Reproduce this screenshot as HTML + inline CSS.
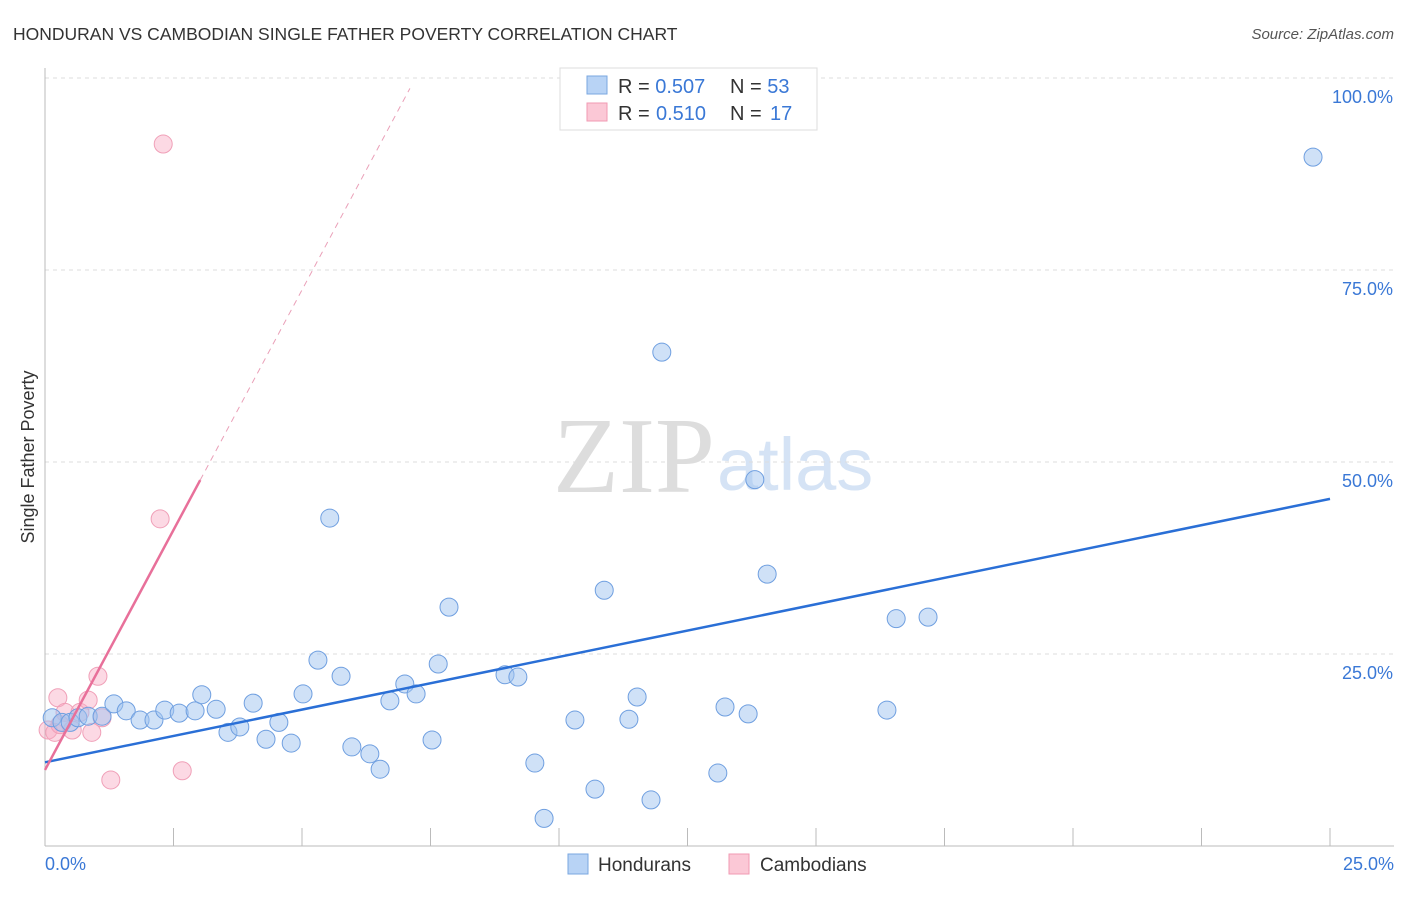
<!DOCTYPE html>
<html><head><meta charset="utf-8"><style>
body{margin:0;background:#fff;font-family:"Liberation Sans",sans-serif}
</style></head><body>
<svg width="1406" height="892" xmlns="http://www.w3.org/2000/svg">
<text x="13" y="40" font-size="17.5" fill="#333">HONDURAN VS CAMBODIAN SINGLE FATHER POVERTY CORRELATION CHART</text>
<text x="1394" y="39" font-size="15" fill="#555" font-style="italic" text-anchor="end">Source: ZipAtlas.com</text>
<text x="553" y="492" font-size="108" fill="#ddd" font-family="Liberation Serif,serif">ZIP</text>
<text x="717" y="490" font-size="74" fill="#d5e3f5">atlas</text>
<g id="grid"></g>
<line x1="45" y1="68" x2="45" y2="846" stroke="#bbb"/>
<line x1="45" y1="846" x2="1394" y2="846" stroke="#bbb"/>
<g id="ticks"></g>
<text x="34" y="457" font-size="18" fill="#333" text-anchor="middle" transform="rotate(-90 34 457)">Single Father Poverty</text>
<g id="pts"></g>
<g id="lines"></g>
<g>
<rect x="560" y="68" width="257" height="62" fill="#fff" stroke="#ddd"/>
<rect x="587" y="76" width="20" height="18" fill="#b8d3f5" stroke="#7aa7e0"/>
<rect x="587" y="103" width="20" height="18" fill="#fbc8d6" stroke="#f09ab3"/>
<text x="618" y="93" font-size="20" fill="#333">R = <tspan fill="#3a78d6">0.507</tspan><tspan x="730">N = </tspan><tspan fill="#3a78d6">53</tspan></text>
<text x="618" y="120" font-size="20" fill="#333">R = <tspan x="656" fill="#3a78d6">0.510</tspan><tspan x="730">N = </tspan><tspan x="770" fill="#3a78d6">17</tspan></text>
</g>
<g>
<rect x="568" y="854" width="20" height="20" fill="#b8d3f5" stroke="#7aa7e0"/>
<text x="598" y="871" font-size="19" fill="#333">Hondurans</text>
<rect x="729" y="854" width="20" height="20" fill="#fbc8d6" stroke="#f09ab3"/>
<text x="760" y="871" font-size="19" fill="#333">Cambodians</text>
</g>
<text x="45" y="870" font-size="18" fill="#3a78d6">0.0%</text>
<text x="1394" y="870" font-size="18" fill="#3a78d6" text-anchor="end">25.0%</text>
</svg>
<script>
const yTicks=[25,50,75,100];
const yTickLabels=["25.0%","50.0%","75.0%","100.0%"];
const hondX=[0.14,0.33,0.49,0.64,0.84,1.11,1.34,1.58,1.85,2.12,2.33,2.61,2.92,3.05,3.33,3.56,3.79,4.05,4.30,4.55,4.79,5.02,5.31,5.54,5.76,5.97,6.32,6.52,6.71,7.00,7.22,7.53,7.65,7.86,8.95,9.20,9.53,9.71,10.31,10.70,10.88,11.36,11.52,11.79,12.00,13.09,13.23,13.68,13.81,14.05,16.38,16.56,17.18,24.67];
const hondY=[16.7,16.1,16.1,16.7,16.9,16.9,18.5,17.6,16.4,16.4,17.7,17.3,17.6,19.7,17.8,14.8,15.5,18.6,13.9,16.1,13.4,19.8,24.2,42.7,22.1,12.9,12.0,10.0,18.9,21.1,19.8,13.8,23.7,31.1,22.3,22.0,10.8,3.6,16.4,7.4,33.3,16.5,19.4,6.0,64.3,9.5,18.1,17.2,47.7,35.4,17.7,29.6,29.8,89.7];
const cambX=[0.06,0.19,0.25,0.39,0.53,0.68,0.84,0.91,1.11,1.03,1.28,2.24,2.30,2.67,0.29];
const cambY=[15.1,14.8,19.3,17.4,15.1,17.4,19.0,14.8,16.7,22.1,8.6,42.6,91.4,9.8,15.8];
const hondLine=[10.9,45.2]; // y at x=0 and x=25
const cambLine=[9.9,12.5]; // intercept, slope
const NS="http://www.w3.org/2000/svg";
const X=v=>45+v*51.4, Y=v=>846-v*7.68;
function mk(t,a,p){const e=document.createElementNS(NS,t);for(const k in a)e.setAttribute(k,a[k]);document.getElementById(p).appendChild(e);return e;}
yTicks.forEach((t,i)=>{
 const l=mk('line',{x1:45,x2:1394,y1:Y(t),y2:Y(t),stroke:'#ddd','stroke-dasharray':'4,4'},'grid');
 
 
 const tx=mk('text',{x:1393,y:Y(t)+25,'font-size':18,fill:'#3a78d6','text-anchor':'end'},'grid');
 tx.textContent=yTickLabels[i];
 
 
});
for(let i=1;i<=10;i++){
 const l=mk('line',{x1:X(i*2.5),x2:X(i*2.5),y1:828,y2:846,stroke:'#bbb'},'ticks');
 
 
}
cambX.forEach((x,i)=>{
 const c=mk('circle',{cx:X(x),cy:Y(cambY[i]),r:9,fill:'rgba(248,170,195,0.45)',stroke:'#f0a0b8','stroke-width':1},'pts');
 
 
});
hondX.forEach((x,i)=>{
 const c=mk('circle',{cx:X(x),cy:Y(hondY[i]),r:9,fill:'rgba(160,196,240,0.5)',stroke:'#6f9fe0','stroke-width':1},'pts');
 
 
});
let l=mk('line',{x1:X(0),y1:Y(hondLine[0]),x2:X(25),y2:Y(hondLine[1]),stroke:'#2a6fd6','stroke-width':2.5},'lines');


const xs=3.02, xe=7.1;
l=mk('line',{x1:X(0),y1:Y(cambLine[0]),x2:X(xs),y2:Y(cambLine[0]+cambLine[1]*xs),stroke:'#e8709a','stroke-width':2.5},'lines');


l=mk('line',{x1:X(xs),y1:Y(cambLine[0]+cambLine[1]*xs),x2:X(xe),y2:Y(cambLine[0]+cambLine[1]*xe),stroke:'#eaa0b8','stroke-width':1,'stroke-dasharray':'6,5'},'lines');


</script>
</body></html>
